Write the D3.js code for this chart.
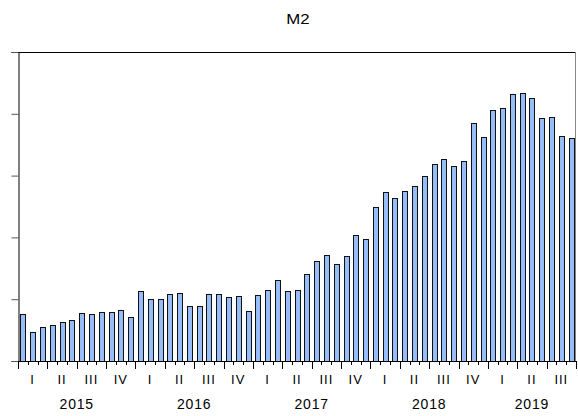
<!DOCTYPE html>
<html>
<head>
<meta charset="utf-8">
<script src="https://cdn.jsdelivr.net/npm/d3@7"></script>
<style>
  body { margin: 0; background: #fff; }
  text { font-family: Arial, "Liberation Sans", sans-serif; fill: #000; }
</style>
</head>
<body>
<svg id="chart" width="578" height="416"></svg>
<script>
// monthly values, Jan 2015 .. Sep 2019 (unlabelled y scale, 1 unit per tick)
var years = ["2015", "2016", "2017", "2018", "2019"];
var quarterLabels = ["I", "II", "III", "IV"];
var values = [
  0.765, 0.474, 0.545, 0.577, 0.635, 0.668, 0.781, 0.760, 0.797, 0.797, 0.824, 0.706,
  1.136, 1.007, 0.997, 1.088, 1.104, 0.884, 0.892, 1.078, 1.083, 1.039, 1.056, 0.813,
  1.067, 1.143, 1.309, 1.132, 1.153, 1.402, 1.621, 1.709, 1.568, 1.693, 2.032, 1.972,
  2.485, 2.735, 2.635, 2.753, 2.829, 2.995, 3.189, 3.261, 3.152, 3.238, 3.859, 3.632,
  4.062, 4.101, 4.316, 4.337, 4.256, 3.940, 3.949, 3.642, 3.610
];
var yTicks = [0, 1, 2, 3, 4, 5];

var months = values.map(function(d, i) { return i; });

var svg = d3.select("#chart");
var pLeft = 18, pRight = 576, pTop = 52, pBottom = 361;

var x = d3.scaleBand()
    .domain(months)
    .range([pLeft, pRight])
    .paddingInner(0)
    .paddingOuter(0);

var y = d3.scaleLinear()
    .domain([0, 5])
    .range([pBottom, pTop]);

// frame
svg.append("line")
    .attr("x1", pLeft).attr("x2", pRight)
    .attr("y1", pTop + 0.5).attr("y2", pTop + 0.5)
    .attr("stroke", "#000");
svg.append("line")
    .attr("x1", pRight - 0.5).attr("x2", pRight - 0.5)
    .attr("y1", pTop).attr("y2", pBottom)
    .attr("stroke", "#888");

// bars
var bw = x.bandwidth() * 0.5;
svg.append("g").selectAll("rect")
    .data(values)
    .enter().append("rect")
    .attr("x", function(d, i) { return Math.round(x(i) + (x.bandwidth() - bw) / 2) + 0.5; })
    .attr("y", function(d) { return Math.round(y(d)) + 0.5; })
    .attr("width", Math.round(bw))
    .attr("height", function(d) { return pBottom - Math.round(y(d)); })
    .attr("fill", "#96bdf8")
    .attr("stroke", "#111")
    .attr("stroke-width", 1);

// left axis (ticks only)
var yAxis = d3.axisLeft(y)
    .tickValues(yTicks)
    .tickSize(7)
    .tickFormat("");
svg.append("g")
    .attr("transform", "translate(" + (pLeft + 0.5) + ",0)")
    .call(yAxis)
    .call(function(g) {
      g.select(".domain").attr("stroke", "#000");
      g.selectAll(".tick line").attr("stroke", "#555");
    });

// bottom axis: minor monthly ticks, major quarterly ticks
var edges = d3.range(values.length + 1);
var xe = d3.scaleLinear().domain([0, values.length]).range([pLeft, pRight]);
svg.append("line")
    .attr("x1", pLeft).attr("x2", pRight)
    .attr("y1", pBottom + 0.5).attr("y2", pBottom + 0.5)
    .attr("stroke", "#000");
svg.append("g").selectAll("line")
    .data(edges)
    .enter().append("line")
    .attr("x1", function(d) { return Math.round(xe(d)) + 0.5; })
    .attr("x2", function(d) { return Math.round(xe(d)) + 0.5; })
    .attr("y1", pBottom)
    .attr("y2", function(d) { return d % 3 === 0 ? pBottom + 8 : pBottom + 4; })
    .attr("stroke", "#000");

// quarter labels
var quarters = d3.range(Math.ceil(values.length / 3));
svg.append("g").selectAll("text")
    .data(quarters)
    .enter().append("text")
    .attr("x", function(q) { return xe(q * 3 + 1.5); })
    .attr("y", 384)
    .attr("text-anchor", "middle")
    .style("font-size", "13px")
    .style("letter-spacing", "1px")
    .text(function(q) { return quarterLabels[q % 4]; });

// year labels
svg.append("g").selectAll("text")
    .data(years)
    .enter().append("text")
    .attr("x", function(d, i) {
      var n = Math.min(12, values.length - i * 12);
      return xe(i * 12 + n / 2);
    })
    .attr("y", 409)
    .attr("text-anchor", "middle")
    .style("font-size", "14px")
    .style("letter-spacing", "0.8px")
    .text(function(d) { return d; });

// title (slightly wide glyphs, as in the original)
svg.append("text")
    .attr("transform", "translate(298,24) scale(1.2,1)")
    .attr("text-anchor", "middle")
    .style("font-size", "14px")
    .text("M2");
</script>
</body>
</html>
